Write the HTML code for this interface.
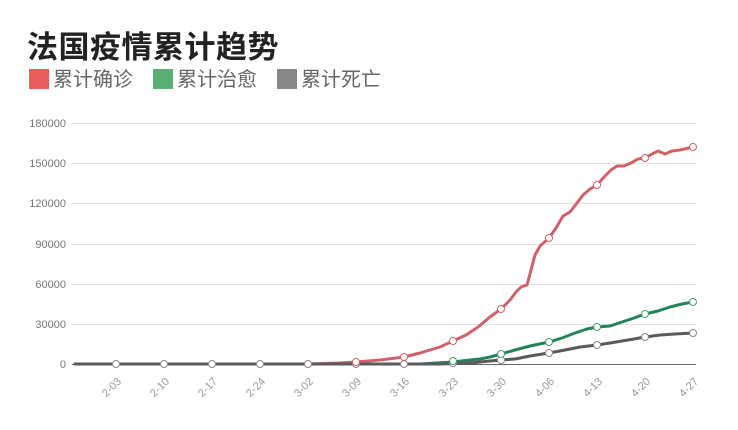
<!DOCTYPE html>
<html><head><meta charset="utf-8"><style>
body{margin:0;background:#fff;width:738px;height:430px;overflow:hidden;font-family:"Liberation Sans","Noto Sans CJK SC",sans-serif;}
.t{position:absolute;left:27px;top:22px;font-size:31px;font-weight:bold;color:#222;letter-spacing:0.5px;font-family:"Liberation Sans","Noto Sans CJK SC",sans-serif;}
.lg{position:absolute;top:68px;font-size:20px;color:#666;line-height:24px;}
.sq{display:inline-block;width:20px;height:20px;vertical-align:-3px;margin-right:4px;}
</style></head><body>
<div class="t">法国疫情累计趋势</div>
<div class="lg" style="left:29px"><span class="sq" style="background:#e85c5c"></span>累计确诊</div>
<div class="lg" style="left:153px"><span class="sq" style="background:#5aaf74"></span>累计治愈</div>
<div class="lg" style="left:277px"><span class="sq" style="background:#87868b"></span>累计死亡</div>
<svg width="738" height="430" style="position:absolute;left:0;top:0" font-family="Liberation Sans, sans-serif">
<g stroke="#e3e3e3" stroke-width="1">
<line x1="72" x2="696" y1="123.5" y2="123.5"/><line x1="72" x2="696" y1="163.5" y2="163.5"/>
<line x1="72" x2="696" y1="203.5" y2="203.5"/><line x1="72" x2="696" y1="244.5" y2="244.5"/>
<line x1="72" x2="696" y1="284.5" y2="284.5"/><line x1="72" x2="696" y1="324.5" y2="324.5"/>
</g>
<line x1="72" x2="696" y1="364.5" y2="364.5" stroke="#666"/>
<g font-size="11" fill="#777" text-anchor="end">
<text x="66" y="127">180000</text><text x="66" y="167">150000</text><text x="66" y="207">120000</text>
<text x="66" y="248">90000</text><text x="66" y="288">60000</text><text x="66" y="328">30000</text><text x="66" y="368">0</text>
</g>
<g font-size="11" fill="#999" text-anchor="end">
<text transform="translate(122,382) rotate(-45)">2-03</text>
<text transform="translate(170,382) rotate(-45)">2-10</text>
<text transform="translate(218,382) rotate(-45)">2-17</text>
<text transform="translate(266,382) rotate(-45)">2-24</text>
<text transform="translate(314,382) rotate(-45)">3-02</text>
<text transform="translate(362,382) rotate(-45)">3-09</text>
<text transform="translate(410,382) rotate(-45)">3-16</text>
<text transform="translate(459,382) rotate(-45)">3-23</text>
<text transform="translate(507,382) rotate(-45)">3-30</text>
<text transform="translate(555,382) rotate(-45)">4-06</text>
<text transform="translate(603,382) rotate(-45)">4-13</text>
<text transform="translate(651,382) rotate(-45)">4-20</text>
<text transform="translate(699,382) rotate(-45)">4-27</text>
</g>
<g fill="none" stroke-width="3" stroke-linejoin="round" stroke-linecap="round">
<path stroke="#d0616a" d="M75,364 L308,364 L340,363 L356,362 L380,360 L404,357 L420,353 L440,347 L453,341 L466,335 L478,327 L490,317 L501,309 L510,300 L516,292 L521,287 L527,285 L531,270 L535,255 L540,246 L549,238 L556,228 L563,216 L570,212 L577,203 L583,195 L590,189 L597,185 L604,177 L611,170 L617,166 L624,166 L631,163 L638,159 L645,158 L652,154 L658,151 L665,154 L672,151 L680,150 L693,147"/>
<path stroke="#24835a" d="M75,364 L420,364 L453,362 L470,360 L480,359 L490,357 L501,354 L515,350 L530,346 L549,342 L562,338 L575,333 L587,329 L597,327 L610,326 L622,322 L634,318 L645,314 L658,311 L670,307 L682,304 L693,302"/>
<path stroke="#5a5a5c" d="M75,364 L440,364 L470,363 L490,361 L501,360 L515,359 L530,356 L549,353 L565,350 L580,347 L597,345 L610,343 L622,341 L634,339 L645,337 L660,335 L675,334 L693,333"/>
</g>
<g fill="#fff" stroke-width="1">
<g stroke="#888"><circle cx="116" cy="364" r="3.5"/><circle cx="164" cy="364" r="3.5"/><circle cx="212" cy="364" r="3.5"/><circle cx="260" cy="364" r="3.5"/><circle cx="308" cy="364" r="3.5"/><circle cx="356" cy="364" r="3.5"/><circle cx="404" cy="364" r="3.5"/><circle cx="453" cy="363" r="3.5"/><circle cx="501" cy="360" r="3.5"/><circle cx="549" cy="353" r="3.5"/><circle cx="597" cy="345" r="3.5"/><circle cx="645" cy="337" r="3.5"/><circle cx="693" cy="333" r="3.5"/></g>
<g stroke="#4a9a70"><circle cx="453" cy="361" r="3.5"/><circle cx="501" cy="354" r="3.5"/><circle cx="549" cy="342" r="3.5"/><circle cx="597" cy="327" r="3.5"/><circle cx="645" cy="314" r="3.5"/><circle cx="693" cy="302" r="3.5"/></g>
<g stroke="#d0616a"><circle cx="356" cy="362" r="3.5"/><circle cx="404" cy="357" r="3.5"/><circle cx="453" cy="341" r="3.5"/><circle cx="501" cy="309" r="3.5"/><circle cx="549" cy="238" r="3.5"/><circle cx="597" cy="185" r="3.5"/><circle cx="645" cy="158" r="3.5"/><circle cx="693" cy="147" r="3.5"/></g>
</g>
</svg>
</body></html>
